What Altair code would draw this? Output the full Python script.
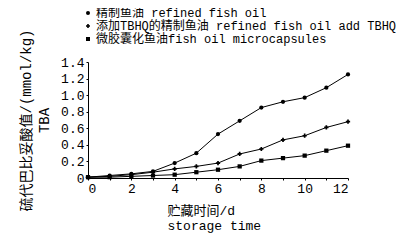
import altair as alt
import pandas as pd

days = list(range(13))
series_names = ["精制鱼油 refined fish oil",
                "添加TBHQ的精制鱼油 refined fish oil add TBHQ",
                "微胶囊化鱼油fish oil microcapsules"]
refined = [0.01, 0.03, 0.05, 0.08, 0.18, 0.30, 0.53, 0.69, 0.85, 0.92, 0.97, 1.09, 1.25]
tbhq = [0.01, 0.02, 0.04, 0.07, 0.11, 0.14, 0.18, 0.29, 0.35, 0.46, 0.51, 0.61, 0.68]
micro = [0.01, 0.01, 0.02, 0.03, 0.04, 0.07, 0.10, 0.14, 0.21, 0.24, 0.27, 0.33, 0.39]

rows = []
for name, vals in zip(series_names, [refined, tbhq, micro]):
    for d, v in zip(days, vals):
        rows.append({"day": d, "tba": v, "series": name})
df = pd.DataFrame(rows)

FONT = "Liberation Mono, Noto Sans CJK SC"

x = alt.X("day:Q", scale=alt.Scale(domain=[0, 12], nice=False),
          axis=alt.Axis(values=days, labelExpr="datum.value % 2 == 0 ? datum.label : ''",
                        grid=False, tickSize=2, labelPadding=2,
                        title=["贮藏时间/d", "storage time"], titleAlign="left",
                        titleX=79, titleY=26, titleFontWeight="normal",
                        titleFontSize=13, labelFontSize=13))
y = alt.Y("tba:Q", scale=alt.Scale(domain=[0, 1.4], nice=False),
          axis=alt.Axis(values=[0, 0.2, 0.4, 0.6, 0.8, 1.0, 1.2, 1.4],
                        labelExpr="datum.value == 0 ? '0' : format(datum.value, '.1f')",
                        grid=False, tickSize=2, labelPadding=2,
                        title=["硫代巴比妥酸值/(mmol/kg)", "TBA"],
                        titleFontWeight="normal", titleFontSize=14, labelFontSize=13,
                        titlePadding=9, titleLineHeight=18))

shape = alt.Shape("series:N", sort=series_names,
                  scale=alt.Scale(domain=series_names, range=["circle", "cross", "square"]),
                  legend=alt.Legend(title=None, orient="none", legendX=-6, legendY=-55,
                                    labelFontSize=12, labelFont=FONT, rowPadding=1,
                                    symbolSize=16, symbolFillColor="black",
                                    symbolStrokeColor="black", labelOffset=2,
                                    labelLimit=400, padding=0))

lines = alt.Chart(df).mark_line(strokeWidth=1, color="black").encode(
    x=x, y=y, detail="series:N")
points = alt.Chart(df).mark_point(filled=True, size=18, opacity=1, color="black").encode(
    x=x, y=y, shape=shape)

chart = alt.layer(lines, points).properties(
    width=260, height=116,
    autosize=alt.AutoSizeParams(type="none"),
    padding={"left": 80, "top": 54, "right": 53, "bottom": 61},
).configure(font=FONT).configure_view(stroke=None).configure_axis(
    domainColor="black", tickColor="black", labelColor="black", titleColor="black",
    labelFont=FONT, titleFont=FONT)

chart.save("out.html", embed_options={"renderer": "svg", "actions": False})
